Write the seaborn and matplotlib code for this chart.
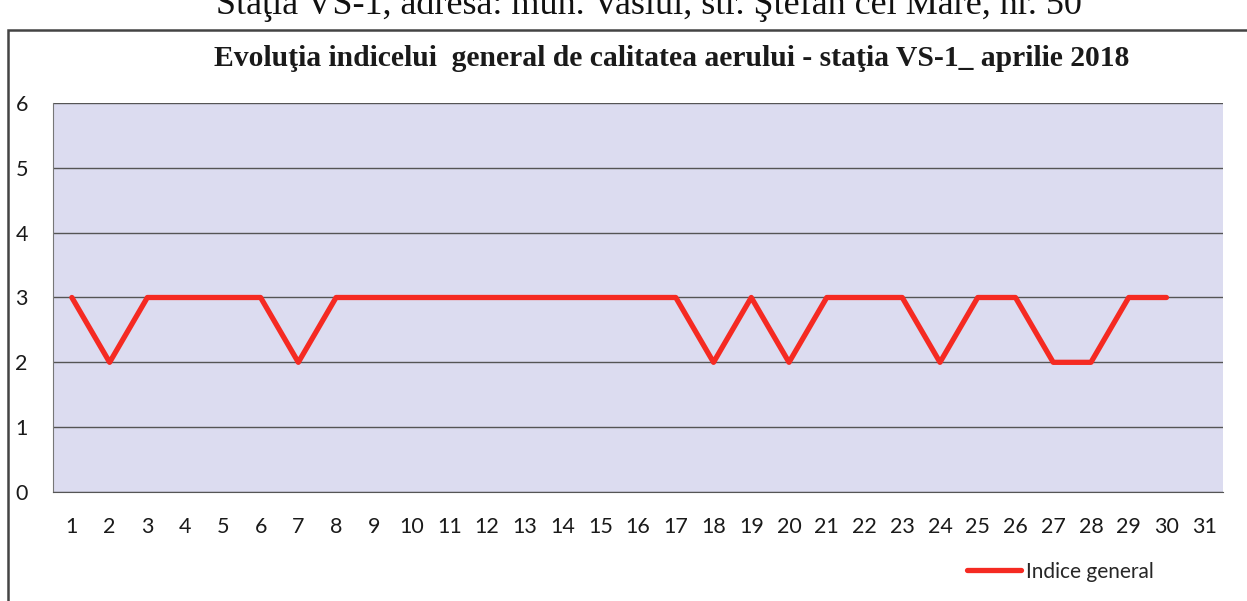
import numpy as np
import pandas as pd
import matplotlib
matplotlib.use("Agg")
import matplotlib.pyplot as plt
import seaborn as sns
from matplotlib.patches import Rectangle

days = list(range(1, 31))
indice = [3, 2, 3, 3, 3, 3, 2, 3, 3, 3,
          3, 3, 3, 3, 3, 3, 3, 2, 3, 2,
          3, 3, 3, 2, 3, 3, 2, 2, 3, 3]
tick_days = list(range(1, 32))
y_ticks = [0, 1, 2, 3, 4, 5, 6]

df = pd.DataFrame({"zi": days, "indice": indice})

sns.set_style("white")
plt.rcParams["font.family"] = ["Lato", "DejaVu Sans"]

fig = plt.figure(figsize=(12.47, 6.01), dpi=100)
ax = fig.add_axes([0.0425, 0.1814, 0.9383, 0.6472])

ax.set_facecolor("#dcdcf0")
sns.lineplot(data=df, x="zi", y="indice", ax=ax, color="#f52a22", linewidth=3.8,
             label="Indice general")

ax.set_xlim(0.5, 31.5)
ax.set_ylim(0, 6)
ax.set_xticks(tick_days)
ax.set_yticks(y_ticks)
ax.tick_params(axis="x", length=0, pad=18, labelsize=15.5, colors="#1a1a1a")
ax.tick_params(axis="y", length=0, labelsize=15.5, colors="#1a1a1a", pad=27)
for lab in ax.get_yticklabels():
    lab.set_horizontalalignment("left")
ax.yaxis.grid(True, color="#555555", linewidth=1.0)
ax.set_axisbelow(True)
ax.set_xlabel("")
ax.set_ylabel("")
for s in ["top", "right"]:
    ax.spines[s].set_visible(False)
ax.spines["left"].set_color("#777777")
ax.spines["bottom"].set_color("#555555")

leg = ax.legend(loc="center left", bbox_to_anchor=(0.765, -0.205), frameon=False,
                fontsize=15, handlelength=2.6, handletextpad=0.25)

fig.add_artist(Rectangle((8 / 1247, -0.05), 1.1, (601 - 30) / 601 + 0.05,
                         transform=fig.transFigure, fill=False,
                         edgecolor="#444444", linewidth=1.8))

fig.text(0.539, 1 - 58 / 601, "Evoluţia indicelui  general de calitatea aerului - staţia VS-1_ aprilie 2018",
         ha="center", va="center", fontsize=21.3, fontweight="bold",
         family="Liberation Serif", color="#1a1a1a")
fig.text(0.52, 1 - 14 / 601, "Staţia VS-1, adresa: mun. Vaslui, str. Ştefan cel Mare, nr. 50",
         ha="center", va="baseline", fontsize=26, family="Liberation Serif", color="#111111")

fig.savefig("out.png", dpi=100)
